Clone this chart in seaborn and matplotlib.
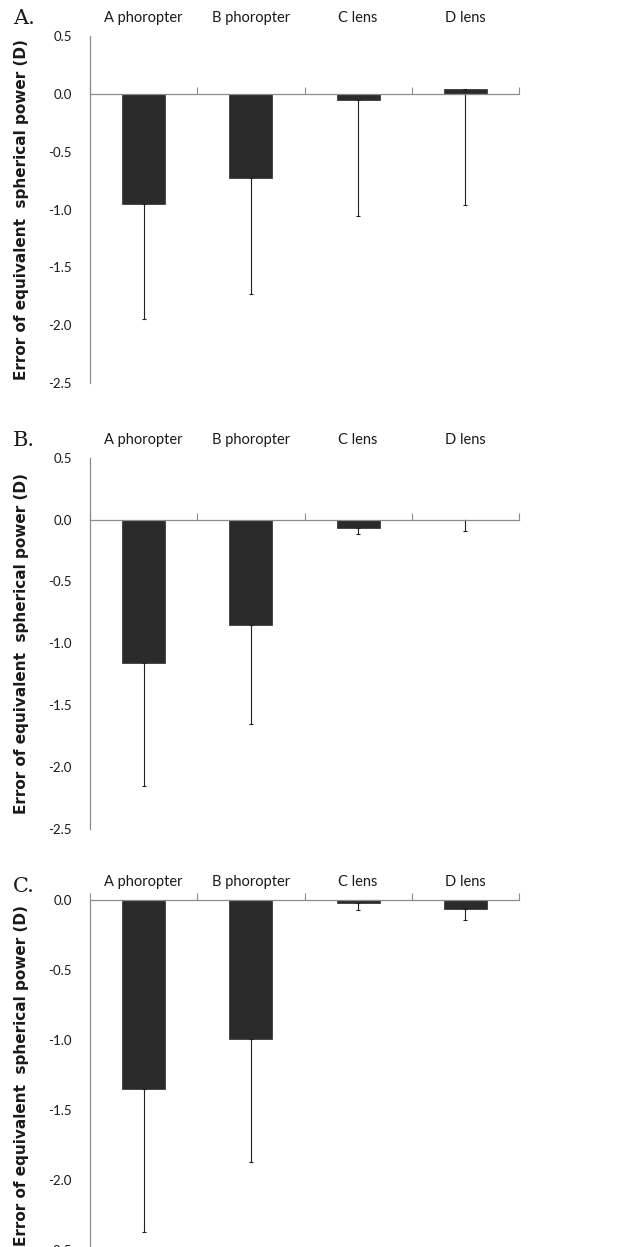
import numpy as np
import pandas as pd
import matplotlib
matplotlib.use("Agg")
import matplotlib.pyplot as plt
import seaborn as sns

# --- Data ---
categories = ["A phoropter", "B phoropter", "C lens", "D lens"]

mean_a = [-0.95, -0.73, -0.05, 0.04]
sd_a = [1.00, 1.00, 1.01, 1.00]

mean_b = [-1.16, -0.85, -0.07, 0.00]
sd_b = [0.99, 0.80, 0.05, 0.09]

mean_c = [-1.35, -0.99, -0.02, -0.06]
sd_c = [1.02, 0.88, 0.05, 0.08]

panel_labels = ["A.", "B.", "C."]
y_top = [0.5, 0.5, 0.0]
y_bottom = -2.5
y_label = "Error of equivalent  spherical power (D)"

# --- Style ---
BAR_COLOR = "#2b2b2b"
AXIS_GREY = "#8c8c8c"
TEXT_COLOR = "#1a1a1a"

sns.set_style("white")
plt.rcParams["font.family"] = ["Lato", "DejaVu Sans"]
plt.rcParams["axes.unicode_minus"] = False

W, H = 624, 1247
fig = plt.figure(figsize=(W / 100, H / 100), dpi=100)

# axes boxes in pixels: (left, right, top, bottom)
boxes = [(90, 519, 36, 383), (90, 519, 457.7, 829), (90, 519, 900.3, 1250)]
label_pos = [(13, 18), (13, 441), (13, 886)]


def draw_panel(box, means, sds, top, letter, lpos):
    left, right, t, b = box
    ax = fig.add_axes([left / W, 1 - b / H, (right - left) / W, (b - t) / H])
    df = pd.DataFrame({"category": categories, "value": means})
    sns.barplot(data=df, x="category", y="value", color=BAR_COLOR,
                saturation=1, width=0.4, errorbar=None, ax=ax,
                edgecolor=BAR_COLOR, linewidth=0.5)
    # one-sided (downward) error bars, as in the original
    x = np.arange(len(categories))
    ax.errorbar(x, means, yerr=[sds, np.zeros(len(sds))], fmt="none",
                ecolor="#222222", elinewidth=0.8, capsize=1.5, capthick=0.8)

    ax.set_xlim(-0.5, len(categories) - 0.5)
    ax.set_ylim(y_bottom, top)
    ticks = np.arange(top, y_bottom - 0.01, -0.5)
    ax.set_yticks(ticks)
    ax.set_yticklabels([f"{v:.1f}" for v in ticks])

    for s in ["top", "right"]:
        ax.spines[s].set_visible(False)
    ax.spines["bottom"].set_position(("data", 0))
    ax.spines["bottom"].set_color(AXIS_GREY)
    ax.spines["left"].set_color(AXIS_GREY)
    ax.spines["bottom"].set_linewidth(0.9)
    ax.spines["left"].set_linewidth(0.9)

    # category labels above the plot, boundary ticks on the zero line
    ax.set_xticks(x)
    ax.set_xticklabels(categories)
    ax.tick_params(axis="x", which="major", bottom=False, top=False,
                   length=0, labelbottom=False, labeltop=True, pad=8,
                   labelsize=10.5, labelcolor=TEXT_COLOR)
    ax.set_xticks(np.arange(-0.5, len(categories)), minor=True)
    ax.tick_params(axis="x", which="minor", bottom=True, top=False,
                   direction="in", length=5, width=0.8, color=AXIS_GREY)
    ax.tick_params(axis="y", direction="out", length=4, width=0.8,
                   color=AXIS_GREY, pad=9, labelsize=9.5,
                   labelcolor=TEXT_COLOR)
    ax.set_xlabel("")
    ax.set_ylabel(y_label, fontsize=11, fontweight="bold",
                  family=["DejaVu Sans"], color=TEXT_COLOR)
    ax.yaxis.set_label_coords(-0.142, 0.5)

    fig.text(lpos[0] / W, 1 - lpos[1] / H, letter, family=["DejaVu Serif"],
             fontsize=15, va="center", ha="left", color=TEXT_COLOR,
             fontweight="light")
    return ax


draw_panel(boxes[0], mean_a, sd_a, y_top[0], panel_labels[0], label_pos[0])
draw_panel(boxes[1], mean_b, sd_b, y_top[1], panel_labels[1], label_pos[1])
draw_panel(boxes[2], mean_c, sd_c, y_top[2], panel_labels[2], label_pos[2])

fig.savefig("out.png", dpi=100)
